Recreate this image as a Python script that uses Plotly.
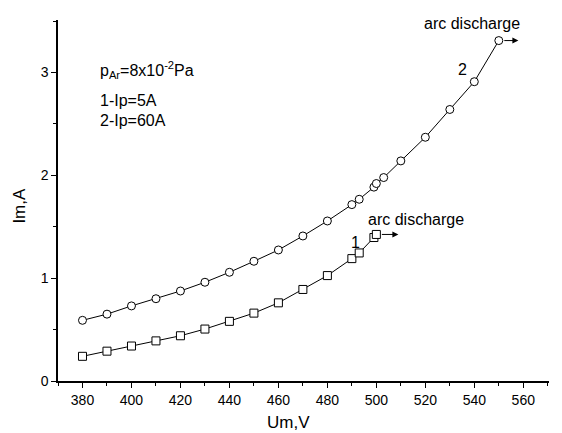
import plotly.graph_objects as go

# Curve 1: Ip = 5 A (squares)
um_1 = [380, 390, 400, 410, 420, 430, 440, 450, 460, 470, 480, 490, 493, 499, 500]
im_1 = [0.24, 0.29, 0.34, 0.39, 0.44, 0.505, 0.58, 0.66, 0.76, 0.89, 1.025, 1.19, 1.245, 1.395, 1.425]

# Curve 2: Ip = 60 A (circles)
um_2 = [380, 390, 400, 410, 420, 430, 440, 450, 460, 470, 480, 490, 493, 499, 500, 503, 510, 520, 530, 540, 550]
im_2 = [0.59, 0.65, 0.73, 0.80, 0.875, 0.96, 1.057, 1.164, 1.274, 1.41, 1.556, 1.715, 1.767, 1.885, 1.92, 1.978, 2.14, 2.37, 2.64, 2.91, 3.31]

x_ticks = [380, 400, 420, 440, 460, 480, 500, 520, 540, 560]
y_ticks = [0, 1, 2, 3]

FONT = "Liberation Sans, Arial, sans-serif"

fig = go.Figure()
fig.add_trace(go.Scatter(
    x=um_1, y=im_1, mode="lines+markers",
    line=dict(color="black", width=1),
    marker=dict(symbol="square", size=8, color="white", line=dict(width=1, color="black")),
    showlegend=False))
fig.add_trace(go.Scatter(
    x=um_2, y=im_2, mode="lines+markers",
    line=dict(color="black", width=1),
    marker=dict(symbol="circle", size=8, color="white", line=dict(width=1, color="black")),
    showlegend=False))

ann = []
# arrows
ann.append(dict(x=509, y=im_1[-1], ax=um_1[-1], ay=im_1[-1], xref="x", yref="y",
                axref="x", ayref="y", text="", showarrow=True, arrowhead=2,
                arrowsize=1.2, arrowwidth=1, arrowcolor="black", startstandoff=4))
ann.append(dict(x=558, y=im_2[-1], ax=um_2[-1], ay=im_2[-1], xref="x", yref="y",
                axref="x", ayref="y", text="", showarrow=True, arrowhead=2,
                arrowsize=1.2, arrowwidth=1, arrowcolor="black", startstandoff=4))
# text labels
def txt(x, y, s, xanchor="center", size=16):
    ann.append(dict(x=x, y=y, xref="x", yref="y", text=s, showarrow=False,
                    xanchor=xanchor, yanchor="middle",
                    font=dict(family=FONT, size=size, color="black")))

txt(539, 3.48, "arc discharge")
txt(516, 1.57, "arc discharge")
txt(535, 3.03, "2")
txt(491.6, 1.35, "1")
txt(386.3, 3.02, "p<sub>Ar</sub>=8x10<sup>-2</sup>Pa", xanchor="left")
txt(386.3, 2.73, "1-Ip=5A", xanchor="left")
txt(386.3, 2.53, "2-Ip=60A", xanchor="left")

# axis titles
ann.append(dict(x=0.47, y=-0.115, xref="paper", yref="paper", text="Um,V",
                showarrow=False, xanchor="center", yanchor="middle",
                font=dict(family=FONT, size=17, color="black")))
ann.append(dict(x=-0.078, y=0.485, xref="paper", yref="paper", text="Im,A",
                showarrow=False, xanchor="center", yanchor="middle", textangle=-90,
                font=dict(family=FONT, size=17, color="black")))

fig.update_layout(
    width=562, height=433,
    margin=dict(l=58, r=13, t=20, b=52),
    paper_bgcolor="white", plot_bgcolor="white",
    font=dict(family=FONT, size=14, color="black"),
    annotations=ann,
)
fig.update_xaxes(
    range=[370, 570.5], tickvals=x_ticks, ticktext=[str(v) for v in x_ticks],
    showgrid=False, zeroline=False, showline=True, linecolor="black", linewidth=1.5,
    ticks="outside", ticklen=5, tickwidth=1.2, tickcolor="black",
    minor=dict(dtick=10, tick0=370, ticks="outside", ticklen=3, tickwidth=1.2, tickcolor="black"),
    tickfont=dict(family=FONT, size=14),
)
fig.update_yaxes(
    range=[0, 3.51], tickvals=y_ticks, ticktext=[str(v) for v in y_ticks],
    showgrid=False, zeroline=False, showline=True, linecolor="black", linewidth=1.5,
    ticks="outside", ticklen=5, tickwidth=1.2, tickcolor="black",
    minor=dict(dtick=0.5, tick0=0, ticks="outside", ticklen=3, tickwidth=1.2, tickcolor="black"),
    tickfont=dict(family=FONT, size=14),
)

fig.write_html("out.html", config={"displayModeBar": False},
               post_script="document.body.style.margin='0';document.body.style.overflow='hidden';")
